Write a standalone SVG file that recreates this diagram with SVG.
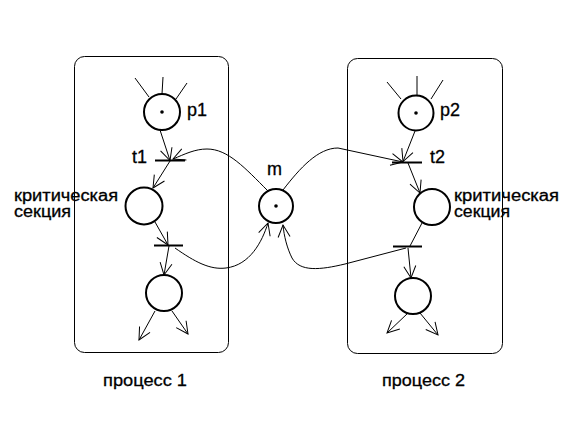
<svg xmlns="http://www.w3.org/2000/svg" width="575" height="443" viewBox="0 0 575 443">
<style>
.box{fill:none;stroke:#000;stroke-width:1}
.pl{fill:#fff;stroke:#000;stroke-width:2}
.tr{stroke:#000;stroke-width:2}
.arc{fill:none;stroke:#000;stroke-width:1}
.ar{marker-end:url(#ah)}
text{font-family:"Liberation Sans",Arial,sans-serif;font-size:17px;fill:#000;stroke:#000;stroke-width:0.3}
.big{font-size:18px}
.cs{font-size:16px}
</style>
<defs>
<marker id="ah" markerWidth="14" markerHeight="14" refX="12" refY="6" orient="auto" markerUnits="userSpaceOnUse" overflow="visible">
<path d="M0,0 L12,6 L0,12" fill="none" stroke="#000" stroke-width="1"/>
</marker>
</defs>
<rect width="575" height="443" fill="#fff"/>
<g id="process1">
<rect class="box" x="74.5" y="56.5" width="154" height="296" rx="10"/>
<text x="103" y="386" textLength="84" lengthAdjust="spacingAndGlyphs">процесс 1</text>
</g>
<g id="process2">
<rect class="box" x="347.5" y="58.5" width="155" height="295" rx="10"/>
<text x="382" y="386" textLength="83" lengthAdjust="spacingAndGlyphs">процесс 2</text>
</g>
<g id="connectors">
<line class="arc" x1="135" y1="78" x2="149" y2="97"/>
<line class="arc" x1="163" y1="77" x2="162" y2="94"/>
<line class="arc" x1="187" y1="83" x2="176" y2="99"/>
<line class="arc ar" x1="160" y1="130" x2="170" y2="160.5"/>
<line class="arc ar" x1="170" y1="161" x2="153" y2="188"/>
<line class="arc ar" x1="155" y1="222" x2="168" y2="245"/>
<line class="arc ar" x1="169" y1="246" x2="164" y2="275"/>
<line class="arc ar" x1="155" y1="311" x2="139" y2="340"/>
<line class="arc ar" x1="172" y1="311" x2="188" y2="334"/>
<path class="arc ar" d="M268,191 C245,168 228,149 207,149 C195,149 185,154 173,159"/>
<path class="arc ar" d="M175,248 C195,262 210,270 226,268 C250,265 262,242 268,223"/>
<line class="arc" x1="387" y1="82" x2="401" y2="99"/>
<line class="arc" x1="417" y1="76" x2="417" y2="95"/>
<line class="arc" x1="443" y1="80" x2="431" y2="99"/>
<line class="arc ar" x1="415" y1="131" x2="403" y2="161.5"/>
<line class="arc ar" x1="408" y1="163" x2="420" y2="193"/>
<line class="arc" x1="422" y1="223" x2="410" y2="246"/>
<line class="arc ar" x1="408" y1="248" x2="411" y2="278"/>
<line class="arc ar" x1="408" y1="313" x2="387" y2="333"/>
<line class="arc ar" x1="420" y1="313" x2="438" y2="335"/>
<path class="arc ar" d="M283,190 C300,168 318,148 338,148 L403,162"/>
<path class="arc ar" d="M406,248 L345,264 C320,270 300,272 292,258 C287,248 284,236 283,225"/>
</g>
<g id="p1">
<circle class="pl" cx="162" cy="112" r="18"/>
<circle cx="162" cy="112" r="1.8" fill="#000"/>
<text class="big" x="187" y="116">p1</text>
</g>
<g id="t1">
<line class="tr" x1="155" y1="160.5" x2="185" y2="160.5"/>
<text class="big" x="132" y="163">t1</text>
</g>
<g id="cs1">
<circle class="pl" cx="144" cy="206" r="18.5"/>
<text class="cs" x="14" y="200.5"><tspan x="14" y="200.5" textLength="104" lengthAdjust="spacingAndGlyphs">критическая</tspan><tspan x="14" y="216.5" textLength="57" lengthAdjust="spacingAndGlyphs">секция</tspan></text>
</g>
<g id="t1b">
<line class="tr" x1="154" y1="245.5" x2="183" y2="245.5"/>
</g>
<g id="q1">
<circle class="pl" cx="164" cy="293" r="18"/>
</g>
<g id="m">
<circle class="pl" cx="276" cy="206" r="17"/>
<circle cx="276" cy="206" r="1.8" fill="#000"/>
<text class="big" x="267" y="175">m</text>
</g>
<g id="p2">
<circle class="pl" cx="416" cy="113" r="17.5"/>
<circle cx="416" cy="113" r="1.8" fill="#000"/>
<text class="big" x="440" y="116">p2</text>
</g>
<g id="t2">
<line class="tr" x1="392" y1="162.5" x2="422" y2="162.5"/>
<text class="big" x="430" y="163">t2</text>
</g>
<g id="cs2">
<circle class="pl" cx="432" cy="207" r="18"/>
<text class="cs" x="454" y="201"><tspan x="454" y="201" textLength="105" lengthAdjust="spacingAndGlyphs">критическая</tspan><tspan x="454" y="217" textLength="56" lengthAdjust="spacingAndGlyphs">секция</tspan></text>
</g>
<g id="t2b">
<line class="tr" x1="393" y1="246.5" x2="422" y2="246.5"/>
</g>
<g id="q2">
<circle class="pl" cx="413" cy="296" r="18"/>
</g>
</svg>
